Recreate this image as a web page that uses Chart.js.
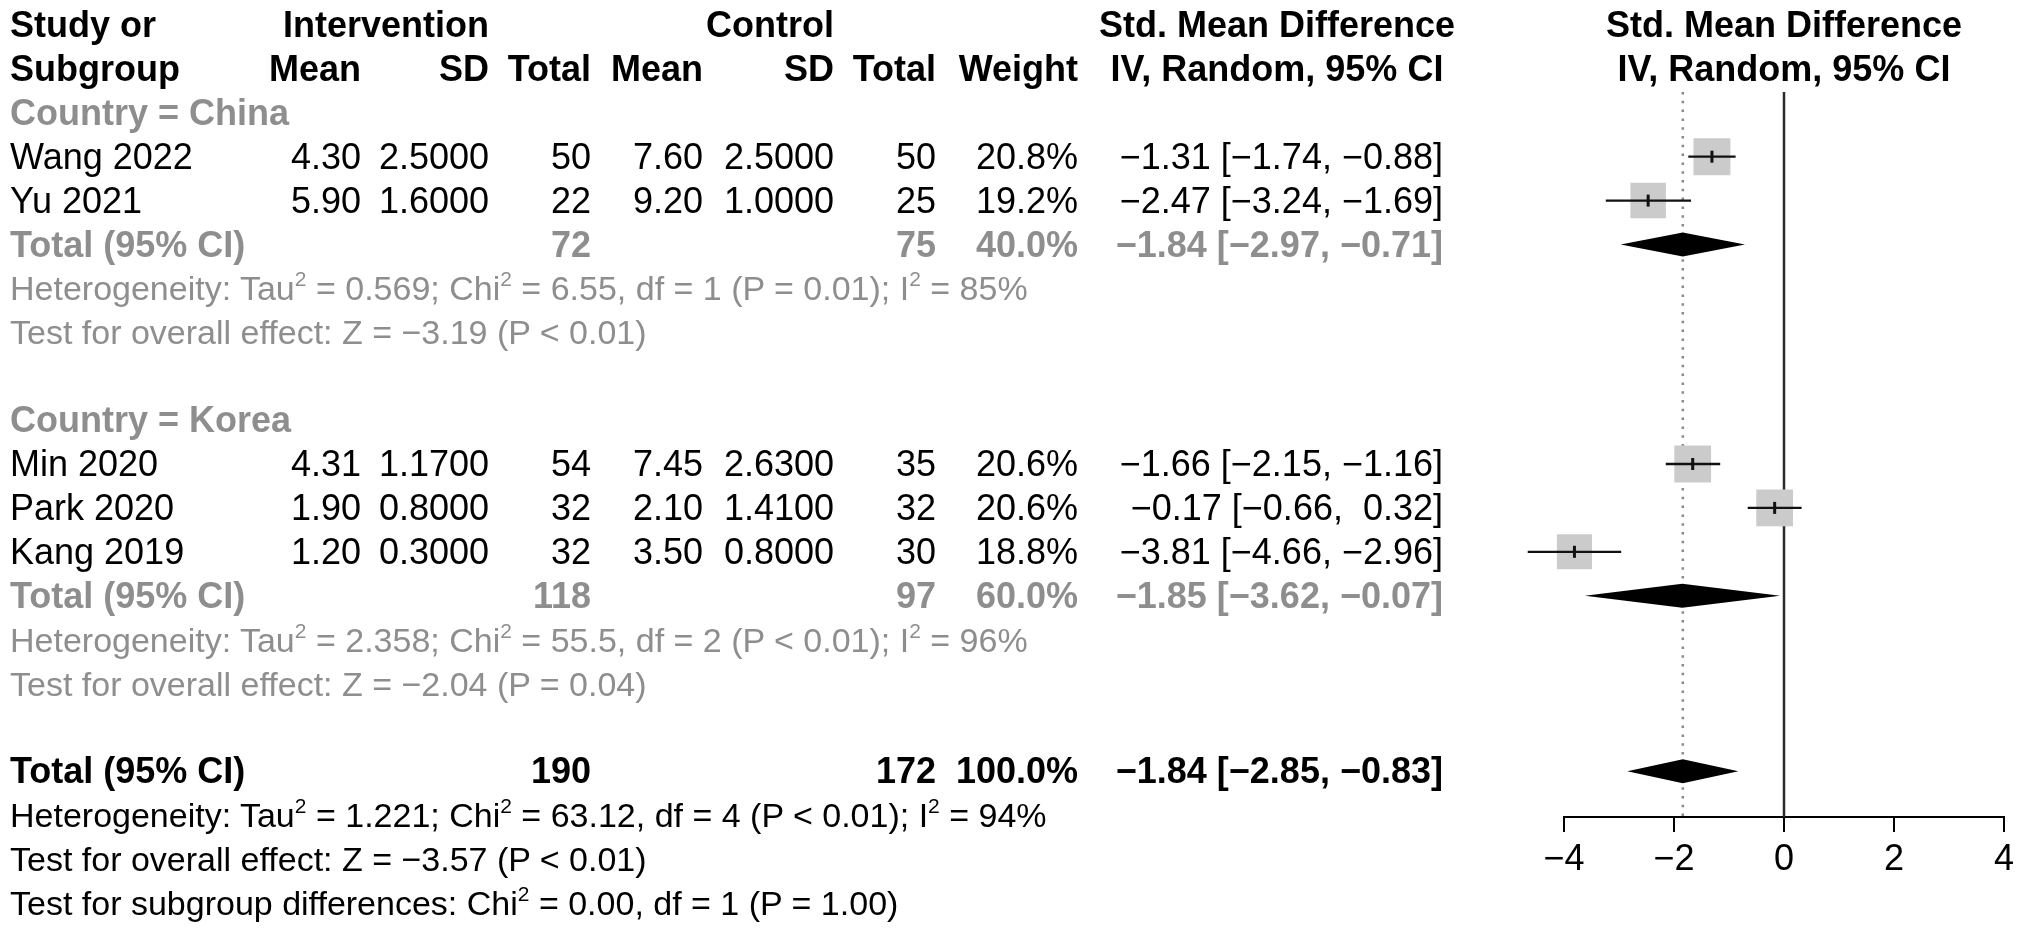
<!DOCTYPE html>
<html>
<head>
<meta charset="utf-8">
<script src="https://cdn.jsdelivr.net/npm/chart.js@4/dist/chart.umd.min.js"></script>
<style>
  html, body { margin: 0; padding: 0; background: #fff; }
  #wrap { position: relative; width: 2031px; height: 935px; overflow: hidden; font-family: "Liberation Sans", Arial, sans-serif; color: #000; }
  #forest { position: absolute; left: 0; top: 0; width: 2031px; height: 935px; }
  .t { position: absolute; white-space: pre; font-size: 36px; line-height: 44px; height: 44px; }
  .b { font-weight: bold; }
  .g { color: #8e8e8e; }
  .s { font-size: 34px; }
  sup { font-size: 21px; vertical-align: baseline; position: relative; top: -14px; }
</style>
</head>
<body>
<div id="wrap"><canvas id="forest" width="2031" height="935"></canvas></div>
<script>
// studies
const studies = ['Wang 2022', 'Yu 2021', 'Min 2020', 'Park 2020', 'Kang 2019'];
const groups = ['China', 'China', 'Korea', 'Korea', 'Korea'];
const meanI = [4.30, 5.90, 4.31, 1.90, 1.20];
const sdI = [2.5, 1.6, 1.17, 0.8, 0.3];
const nI = [50, 22, 54, 32, 32];
const meanC = [7.60, 9.20, 7.45, 2.10, 3.50];
const sdC = [2.5, 1.0, 2.63, 1.41, 0.8];
const nC = [50, 25, 35, 32, 30];
const weights = [20.8, 19.2, 20.6, 20.6, 18.8];
const smd = [-1.31, -2.47, -1.66, -0.17, -3.81];
const ciLow = [-1.74, -3.24, -2.15, -0.66, -4.66];
const ciHigh = [-0.88, -1.69, -1.16, 0.32, -2.96];

// subgroups
const subgroups = ['China', 'Korea'];
const subNI = [72, 118];
const subNC = [75, 97];
const subWeight = [40.0, 60.0];
const subSmd = [-1.84, -1.85];
const subLow = [-2.97, -3.62];
const subHigh = [-0.71, -0.07];
const subTau2 = ['0.569', '2.358'];
const subChi2 = ['6.55', '55.5'];
const subDf = [1, 2];
const subHetP = ['= 0.01', '< 0.01'];
const subI2 = [85, 96];
const subZ = ['\u22123.19', '\u22122.04'];
const subZP = ['< 0.01', '= 0.04'];

// overall
const totNI = 190, totNC = 172, totWeight = 100.0;
const totSmd = -1.84, totLow = -2.85, totHigh = -0.83;
const totTau2 = '1.221', totChi2 = '63.12', totDf = 4, totHetP = '< 0.01', totI2 = 94;
const totZ = '\u22123.57', totZP = '< 0.01';
const diffChi2 = '0.00', diffDf = 1, diffP = '= 1.00';

const xTicks = [-4, -2, 0, 2, 4];
const xTickLabels = ['\u22124', '\u22122', '0', '2', '4'];

// layout
const ROW0 = 25, ROW_H = 43.9;
const PLOT_TOP = 92, PLOT_BOTTOM = 817;
const FONT = '"Liberation Sans", Arial, sans-serif';
const col = { study: 10, meanI: 361, sdI: 489, nI: 591, meanC: 703, sdC: 834, nC: 936, weight: 1078, ci: 1443, ciHead: 1277, plot: 1784 };

const wrap = document.getElementById('wrap');
function put(html, x, row, align, cls) {
  const d = document.createElement('div');
  d.className = 't ' + (cls || '');
  d.innerHTML = html;
  d.style.top = (ROW0 + ROW_H * row - 22) + 'px';
  if (align === 'r') { d.style.left = (x - 600) + 'px'; d.style.width = '600px'; d.style.textAlign = 'right'; }
  else if (align === 'c') { d.style.left = (x - 300) + 'px'; d.style.width = '600px'; d.style.textAlign = 'center'; }
  else d.style.left = x + 'px';
  wrap.appendChild(d);
}
const num = (v, d) => (v < 0 ? '\u2212' : '') + Math.abs(v).toFixed(d);
const pad = v => (v < 0 ? '\u2212' : ' ') + Math.abs(v).toFixed(2);
const ciText = (e, lo, hi) => num(e, 2) + ' [' + pad(lo) + ', ' + pad(hi) + ']';
const hetText = (tau, chi, df, p, i2) =>
  'Heterogeneity: Tau<sup>2</sup> = ' + tau + '; Chi<sup>2</sup> = ' + chi + ', df = ' + df + ' (P ' + p + '); I<sup>2</sup> = ' + i2 + '%';

// headers
put('Study or', col.study, 0, 'l', 'b');
put('Subgroup', col.study, 1, 'l', 'b');
put('Intervention', col.sdI, 0, 'r', 'b');
put('Control', col.sdC, 0, 'r', 'b');
put('Mean', col.meanI, 1, 'r', 'b');
put('SD', col.sdI, 1, 'r', 'b');
put('Total', col.nI, 1, 'r', 'b');
put('Mean', col.meanC, 1, 'r', 'b');
put('SD', col.sdC, 1, 'r', 'b');
put('Total', col.nC, 1, 'r', 'b');
put('Weight', col.weight, 1, 'r', 'b');
put('Std. Mean Difference', col.ciHead, 0, 'c', 'b');
put('IV, Random, 95% CI', col.ciHead, 1, 'c', 'b');
put('Std. Mean Difference', col.plot, 0, 'c', 'b');
put('IV, Random, 95% CI', col.plot, 1, 'c', 'b');

const studyRows = [];
const subRows = [];
let row = 2;
subgroups.forEach((g, gi) => {
  put('Country = ' + g, col.study, row, 'l', 'b g');
  row++;
  studies.forEach((s, i) => {
    if (groups[i] !== g) return;
    studyRows[i] = row;
    put(s, col.study, row, 'l');
    put(meanI[i].toFixed(2), col.meanI, row, 'r');
    put(sdI[i].toFixed(4), col.sdI, row, 'r');
    put(String(nI[i]), col.nI, row, 'r');
    put(meanC[i].toFixed(2), col.meanC, row, 'r');
    put(sdC[i].toFixed(4), col.sdC, row, 'r');
    put(String(nC[i]), col.nC, row, 'r');
    put(weights[i].toFixed(1) + '%', col.weight, row, 'r');
    put(ciText(smd[i], ciLow[i], ciHigh[i]), col.ci, row, 'r');
    row++;
  });
  subRows[gi] = row;
  put('Total (95% CI)', col.study, row, 'l', 'b g');
  put(String(subNI[gi]), col.nI, row, 'r', 'b g');
  put(String(subNC[gi]), col.nC, row, 'r', 'b g');
  put(subWeight[gi].toFixed(1) + '%', col.weight, row, 'r', 'b g');
  put(ciText(subSmd[gi], subLow[gi], subHigh[gi]), col.ci, row, 'r', 'b g');
  row++;
  put(hetText(subTau2[gi], subChi2[gi], subDf[gi], subHetP[gi], subI2[gi]), col.study, row, 'l', 'g s');
  row++;
  put('Test for overall effect: Z = ' + subZ[gi] + ' (P ' + subZP[gi] + ')', col.study, row, 'l', 'g s');
  row += 2;
});
const totRow = row;
put('Total (95% CI)', col.study, row, 'l', 'b');
put(String(totNI), col.nI, row, 'r', 'b');
put(String(totNC), col.nC, row, 'r', 'b');
put(totWeight.toFixed(1) + '%', col.weight, row, 'r', 'b');
put(ciText(totSmd, totLow, totHigh), col.ci, row, 'r', 'b');
put(hetText(totTau2, totChi2, totDf, totHetP, totI2), col.study, row + 1, 'l', 's');
put('Test for overall effect: Z = ' + totZ + ' (P ' + totZP + ')', col.study, row + 2, 'l', 's');
put('Test for subgroup differences: Chi<sup>2</sup> = ' + diffChi2 + ', df = ' + diffDf + ' (P ' + diffP + ')', col.study, row + 3, 'l', 's');

// diamonds and whiskers drawn through the chart's scales
const forestPlugin = {
  id: 'forest',
  beforeDatasetsDraw(chart) {
    const { ctx, chartArea: a, scales: { x } } = chart;
    ctx.save();
    const x0 = x.getPixelForValue(0);
    ctx.strokeStyle = '#2b2b2b';
    ctx.lineWidth = 2.5;
    ctx.beginPath(); ctx.moveTo(x0, a.top); ctx.lineTo(x0, a.bottom); ctx.stroke();
    const xp = x.getPixelForValue(totSmd);
    ctx.strokeStyle = '#8a8a8a';
    ctx.setLineDash([2.5, 6.3]);
    ctx.beginPath(); ctx.moveTo(xp, a.top); ctx.lineTo(xp, a.bottom); ctx.stroke();
    ctx.restore();
  },
  afterDatasetsDraw(chart) {
    const { ctx, scales: { x, y } } = chart;
    ctx.save();
    ctx.strokeStyle = '#111';
    studies.forEach((s, i) => {
      const py = y.getPixelForValue(studyRows[i]);
      ctx.lineWidth = 2.3;
      ctx.beginPath();
      ctx.moveTo(x.getPixelForValue(ciLow[i]), py);
      ctx.lineTo(x.getPixelForValue(ciHigh[i]), py);
      ctx.stroke();
      const pe = x.getPixelForValue(smd[i]);
      ctx.lineWidth = 3;
      ctx.beginPath(); ctx.moveTo(pe, py - 6); ctx.lineTo(pe, py + 6); ctx.stroke();
    });
    const diamond = (e, lo, hi, r, h) => {
      const py = y.getPixelForValue(r);
      ctx.beginPath();
      ctx.moveTo(x.getPixelForValue(lo), py);
      ctx.lineTo(x.getPixelForValue(e), py - h);
      ctx.lineTo(x.getPixelForValue(hi), py);
      ctx.lineTo(x.getPixelForValue(e), py + h);
      ctx.closePath();
      ctx.fillStyle = '#000';
      ctx.fill();
    };
    subgroups.forEach((g, gi) => diamond(subSmd[gi], subLow[gi], subHigh[gi], subRows[gi], 12));
    diamond(totSmd, totLow, totHigh, totRow, 12);
    ctx.restore();
  }
};

new Chart(document.getElementById('forest'), {
  type: 'scatter',
  data: {
    datasets: [{
      data: studies.map((s, i) => ({ x: smd[i], y: studyRows[i] })),
      pointStyle: 'rect',
      pointRadius: weights.map(w => Math.sqrt(w) * 8.1 / (2 * Math.SQRT1_2)),
      backgroundColor: '#cbcbcb',
      borderWidth: 0,
      clip: false
    }]
  },
  options: {
    responsive: false,
    animation: false,
    events: [],
    layout: { padding: { left: 1564, right: 27, top: PLOT_TOP, bottom: 935 - PLOT_BOTTOM - 60 } },
    plugins: { legend: { display: false }, tooltip: { enabled: false } },
    scales: {
      x: {
        type: 'linear', min: -4, max: 4,
        afterBuildTicks: s => { s.ticks = xTicks.map(v => ({ value: v })); },
        afterFit: s => { s.height = 60; },
        ticks: { color: '#000', font: { size: 36, family: FONT }, padding: 6, maxRotation: 0, callback: (v, i) => xTickLabels[i] },
        grid: { drawOnChartArea: false, drawTicks: true, tickLength: 15, color: '#000', lineWidth: 2 },
        border: { display: true, color: '#000', width: 2 }
      },
      y: {
        type: 'linear', display: false, reverse: true,
        min: (PLOT_TOP - ROW0) / ROW_H, max: (PLOT_BOTTOM - ROW0) / ROW_H
      }
    }
  },
  plugins: [forestPlugin]
});
</script>
</body>
</html>
